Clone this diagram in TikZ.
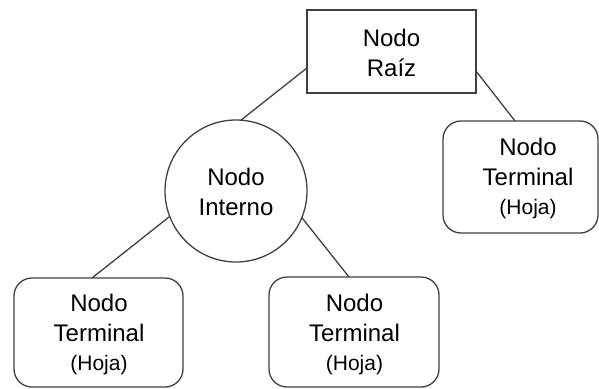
\documentclass[tikz,border=0pt]{standalone}
\usepackage{fontspec}
\setmainfont{Liberation Sans}
\usetikzlibrary{calc}
\definecolor{ln}{RGB}{64,64,64}
\tikzset{
  every node/.style={inner sep=0pt, outer sep=0pt},
  big/.style={font=\fontsize{24}{30}\selectfont, align=center},
  rootbox/.style={draw=ln, line width=1.3pt, rectangle, minimum width=169pt, minimum height=83pt},
  innerc/.style={draw=ln, line width=1.3pt, circle, minimum size=142pt},
  leafbox/.style={draw=ln, line width=1.3pt, rectangle, rounded corners=18pt},
  conn/.style={draw=ln, line width=1.3pt},
}
\newcommand{\hoja}{\\[-1pt]{\fontsize{21}{25}\selectfont (Hoja)}}
\begin{document}
\begin{tikzpicture}[x=1pt,y=-1pt]
\useasboundingbox (0,0) rectangle (599,388);
\node[rootbox] (root) at (391.5,51.5) {};
\node[big] (roott) at (391.5,53) {Nodo\\Raíz};
\node[innerc] (circ) at (236,191) {};
\node[big] (circt) at (236,192) {Nodo\\Interno};
\node[leafbox, minimum width=155pt, minimum height=112pt] (rleaf) at (520.5,177) {};
\node[big] (rleaft) at (528,178) {Nodo\\Terminal\hoja};
\node[leafbox, minimum width=169pt, minimum height=109pt] (bl) at (98.5,332.5) {};
\node[big] (blt) at (99,334) {Nodo\\Terminal\hoja};
\node[leafbox, minimum width=170pt, minimum height=110pt] (bm) at (354,332) {};
\node[big] (bmt) at (354.5,334) {Nodo\\Terminal\hoja};
\draw[conn] (root.191) -- (circ.86.7);
\draw[conn] (root.347) -- ($(rleaf.north)+(-5.5,0)$);
\draw[conn] (circ.201.5) -- ($(bl.north)+(-6.5,0)$);
\draw[conn] (circ.338.8) -- ($(bm.north)+(-5,0)$);
\end{tikzpicture}
\end{document}
